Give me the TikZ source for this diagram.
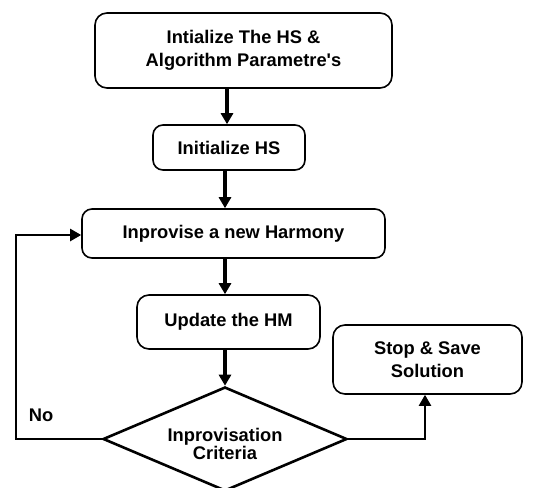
\documentclass[tikz,border=0pt]{standalone}
\usepackage{fontspec}
\setmainfont{Liberation Sans}[Ligatures=TeXOff]
\usepackage{tikz}
\usetikzlibrary{arrows.meta,positioning,shapes.geometric}

\begin{document}
\begin{tikzpicture}[x=1pt,y=-1pt,>={Triangle[width=12pt,length=11pt]},
  stepbox/.style={draw,line width=1.6pt,rounded corners=12pt,align=center,
    font=\fontsize{18.3}{23}\selectfont\bfseries,inner sep=0pt},
  decide/.style={draw,diamond,aspect=2.35,line width=2.6pt,align=center,inner sep=0pt,
    font=\fontsize{18.3}{18}\selectfont\bfseries},
  flow/.style={line width=3.6pt,->},
  back/.style={line width=2.2pt,->}]
  \useasboundingbox (0,0) rectangle (542,488);

  \node[stepbox,minimum width=297pt,minimum height=75pt] (params) at (243.5,50.5)
    {Intialize The HS \&\\Algorithm Parametre's};
  \node[stepbox,minimum width=152pt,minimum height=45pt,rounded corners=10pt] (inits) at (229,147.5)
    {Initialize HS};
  \node[stepbox,minimum width=303pt,minimum height=49pt,rounded corners=10pt] (improv) at (233.5,233.5)
    {Inprovise a new Harmony};
  \node[stepbox,minimum width=183pt,minimum height=54pt] (update) at (228.5,322)
    {Update the HM};
  \node[stepbox,minimum width=189pt,minimum height=69pt] (stop) at (427.5,359.5)
    {Stop \& Save\\Solution};
  \node[decide,minimum width=244pt,minimum height=104pt,text height=45pt,text depth=4pt] (crit) at (225,439)
    {Inprovisation\\Criteria};
  \node[font=\fontsize{18.3}{21}\selectfont\bfseries] (no) at (41,415) {No};

  \draw[flow] (params.south -| 227,0) -- (inits.north -| 227,0);
  \draw[flow] (inits.south -| 225,0) -- (improv.north -| 225,0);
  \draw[flow] (improv.south -| 225,0) -- (update.north -| 225,0);
  \draw[flow] (update.south -| 225,0) -- (crit.north);
  \draw[back] (crit.west) -| (16,235) -- (improv.west |- 0,235);
  \draw[back] (crit.east) -| (stop.south -| 425,0);
\end{tikzpicture}
\end{document}
